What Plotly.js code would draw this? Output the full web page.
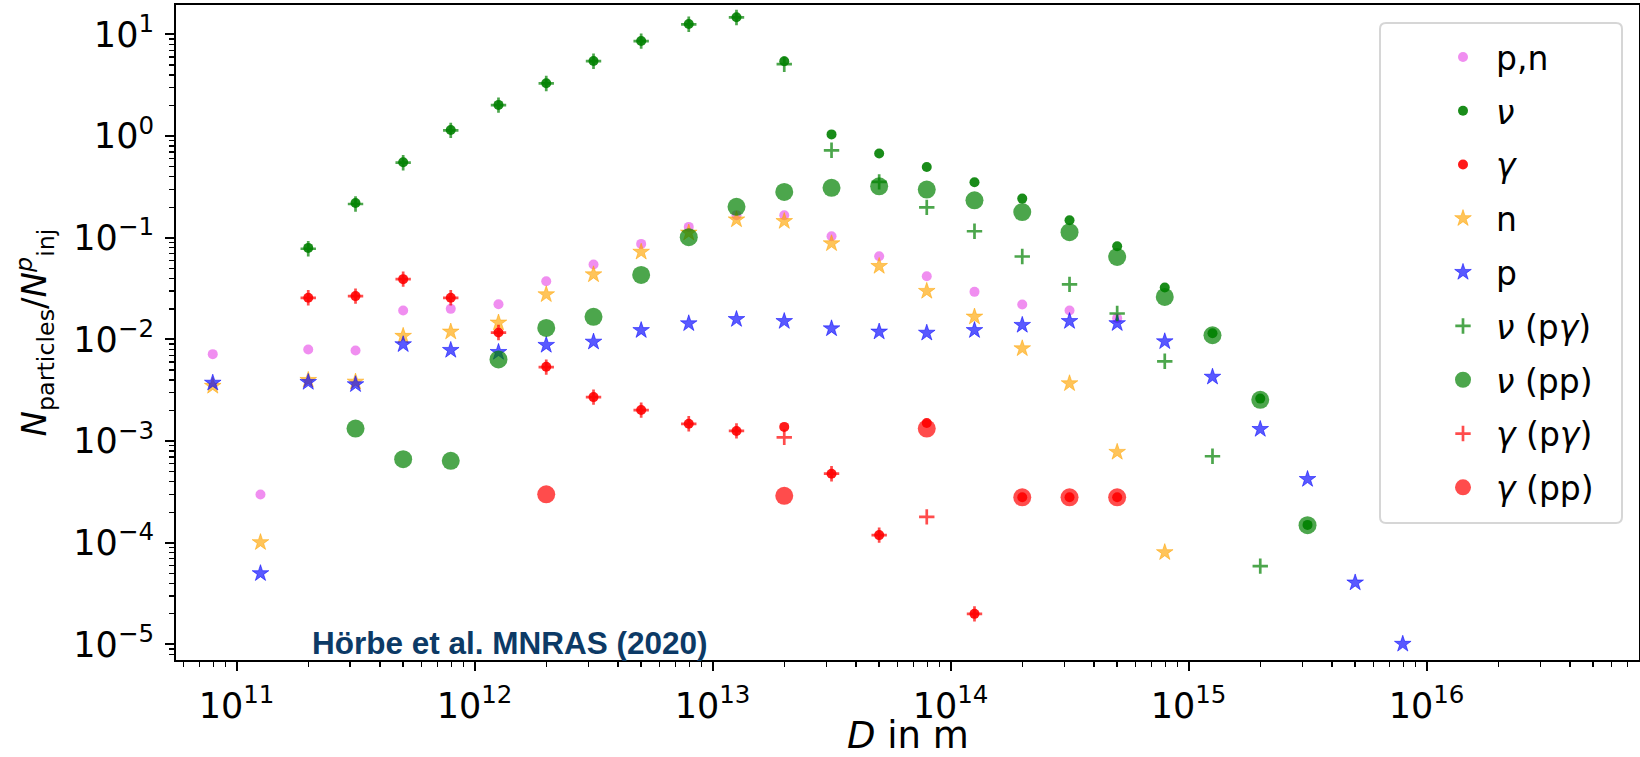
<!DOCTYPE html>
<html>
<head>
<meta charset="utf-8">
<script src="https://cdn.plot.ly/plotly-3.0.1.min.js"></script>
<style>
  html, body { margin: 0; padding: 0; background: #fff; }
  #chart { width: 1640px; height: 757px; }
</style>
</head>
<body>
<div id="chart"></div>
<script>
// Source distance D (m), five points per decade
const distance = [7.94e10, 1.26e11, 2.00e11, 3.16e11, 5.01e11, 7.94e11, 1.26e12, 2.00e12, 3.16e12, 5.01e12,
                  7.94e12, 1.26e13, 2.00e13, 3.16e13, 5.01e13, 7.94e13, 1.26e14, 2.00e14, 3.16e14, 5.01e14,
                  7.94e14, 1.26e15, 2.00e15, 3.16e15, 5.01e15, 7.94e15];

// Escaping particles per injected proton
const nucleons = [7.17e-3, 2.99e-4, 7.97e-3, 7.80e-3, 0.0193, 0.0200, 0.0222, 0.0374, 0.0546, 0.0871,
                  0.128, 0.167, 0.1667, 0.1037, 0.0659, 0.0418, 0.0294, 0.0221, 0.0193, 0.0162,
                  null, null, null, null, null, null];
const neutrinos = [null, null, 0.0796, 0.220, 0.553, 1.15, 2.03, 3.31, 5.48, 8.63,
                   12.7, 14.8, 5.45, 1.04, 0.675, 0.498, 0.352, 0.243, 0.149, 0.0826,
                   0.0324, 0.0115, 2.62e-3, 1.50e-4, null, null];
const gammas = [null, null, 0.0257, 0.0267, 0.0392, 0.0257, 0.0117, 5.38e-3, 2.71e-3, 2.02e-3,
                1.48e-3, 1.26e-3, 1.38e-3, 4.78e-4, 1.19e-4, 1.51e-3, 2.0e-5, 2.8e-4, 2.8e-4, 2.8e-4,
                null, null, null, null, null, null];
const neutrons = [3.48e-3, 1.01e-4, 3.98e-3, 3.83e-3, 0.0108, 0.0119, 0.0146, 0.0277, 0.0435, 0.0726,
                  0.112, 0.151, 0.1455, 0.0879, 0.0526, 0.0299, 0.0167, 8.15e-3, 3.69e-3, 7.8e-4,
                  8.05e-5, null, null, null, null, null];
const protons = [3.74e-3, 5.0e-5, 3.80e-3, 3.61e-3, 8.93e-3, 7.85e-3, 7.50e-3, 8.80e-3, 9.47e-3, 0.0123,
                 0.01436, 0.0158, 0.0151, 0.0128, 0.0119, 0.0116, 0.0123, 0.01384, 0.0151, 0.0144,
                 9.55e-3, 4.28e-3, 1.31e-3, 4.22e-4, 4.05e-5, 1.01e-5];
const neutrinosPG = [null, null, 0.078, 0.215, 0.548, 1.14, 2.02, 3.30, 5.46, 8.60,
                     12.6, 14.7, 5.10, 0.726, 0.355, 0.199, 0.116, 0.0655, 0.0348, 0.0180,
                     6.1e-3, 7.1e-4, 5.9e-5, null, null, null];
const neutrinosPP = [null, null, null, 1.33e-3, 6.65e-4, 6.40e-4, 6.36e-3, 0.0130, 0.0167, 0.0431,
                     0.1014, 0.2015, 0.2825, 0.310, 0.321, 0.298, 0.234, 0.179, 0.1135, 0.0649,
                     0.0262, 0.0110, 2.55e-3, 1.49e-4, null, null];
const gammasPG = [null, null, 0.0257, 0.0267, 0.0392, 0.0257, 0.0117, 5.35e-3, 2.71e-3, 2.02e-3,
                  1.48e-3, 1.26e-3, 1.09e-3, 4.78e-4, 1.19e-4, 1.80e-4, 2.0e-5, null, null, null,
                  null, null, null, null, null, null];
const gammasPP = [null, null, null, null, null, null, null, 3.0e-4, null, null,
                  null, null, 2.9e-4, null, null, 1.33e-3, null, 2.8e-4, 2.8e-4, 2.8e-4,
                  null, null, null, null, null, null];

// Axis ticks
const xTickVals = [1e11, 1e12, 1e13, 1e14, 1e15, 1e16];
const xTickText = ['10<sup>11</sup>', '10<sup>12</sup>', '10<sup>13</sup>', '10<sup>14</sup>', '10<sup>15</sup>', '10<sup>16</sup>'];
const yTickVals = [1e1, 1e0, 1e-1, 1e-2, 1e-3, 1e-4, 1e-5];
const yTickText = ['10<sup>1</sup>', '10<sup>0</sup>', '10<sup>\u22121</sup>', '10<sup>\u22122</sup>',
                   '10<sup>\u22123</sup>', '10<sup>\u22124</sup>', '10<sup>\u22125</sup>'];

// Minor ticks at 2..9 of every decade
function minorTicks(e0, e1) {
  const v = [];
  for (let e = e0; e <= e1; e++) for (let m = 2; m <= 9; m++) v.push(m * Math.pow(10, e));
  return v;
}

const W = 1640, H = 757;
const M = { l: 176, r: 1, t: 5, b: 97 };
const PW = W - M.l - M.r, PH = H - M.t - M.b;
const px = x => (x - M.l) / PW;
const py = y => 1 - (y - M.t) / PH;

// Rounded frame behind the legend, given in pixels
function roundedBox(x0, y0, x1, y1, r) {
  const rx = r / PW, ry = r / PH;
  const a = px(x0), b = px(x1), c = py(y0), d = py(y1);
  return `M${a + rx},${c} L${b - rx},${c} Q${b},${c} ${b},${c - ry} L${b},${d + ry} Q${b},${d} ${b - rx},${d} ` +
         `L${a + rx},${d} Q${a},${d} ${a},${d + ry} L${a},${c - ry} Q${a},${c} ${a + rx},${c} Z`;
}

const FONT = 'DejaVu Sans, Verdana, sans-serif';

function series(name, y, marker, group) {
  return { type: 'scatter', mode: 'markers', x: distance, y: y, name: name,
           legendgroup: group, marker: marker, hoverinfo: 'x+y+name' };
}

const traces = [
  series('p,n', nucleons, { symbol: 'circle', size: 10, color: 'rgba(238,130,238,0.9)', line: { width: 0 } }, 'g1'),
  series('<i>\u03bd</i>', neutrinos, { symbol: 'circle', size: 10, color: 'rgba(0,128,0,0.9)', line: { width: 0 } }, 'g2'),
  series('<i>\u03b3</i>', gammas, { symbol: 'circle', size: 10, color: 'rgba(255,0,0,0.9)', line: { width: 0 } }, 'g3'),
  series('n', neutrons, { symbol: 'star', size: 12.5, color: 'rgba(255,165,0,0.65)',
         line: { width: 0.8, color: 'rgba(255,165,0,0.65)' } }, 'g4'),
  series('p', protons, { symbol: 'star', size: 12.5, color: 'rgba(0,0,255,0.65)',
         line: { width: 0.8, color: 'rgba(0,0,255,0.65)' } }, 'g5'),
  series('<i>\u03bd</i> (p<i>\u03b3</i>)', neutrinosPG, { symbol: 'cross-thin', size: 11, color: 'rgba(0,128,0,0.7)',
         line: { width: 2.7, color: 'rgba(0,128,0,0.7)' } }, 'g6'),
  series('<i>\u03bd</i> (pp)', neutrinosPP, { symbol: 'circle', size: 18, color: 'rgba(0,128,0,0.7)', line: { width: 0 } }, 'g7'),
  series('<i>\u03b3</i> (p<i>\u03b3</i>)', gammasPG, { symbol: 'cross-thin', size: 11, color: 'rgba(255,0,0,0.7)',
         line: { width: 2.7, color: 'rgba(255,0,0,0.7)' } }, 'g8'),
  series('<i>\u03b3</i> (pp)', gammasPP, { symbol: 'circle', size: 18, color: 'rgba(255,0,0,0.7)', line: { width: 0 } }, 'g9')
];

const axisCommon = {
  type: 'log', showgrid: false, zeroline: false,
  showline: true, linecolor: '#000', linewidth: 2, mirror: true,
  ticks: 'outside', ticklen: 9, tickwidth: 2, tickcolor: '#000',
  tickmode: 'array',
  tickfont: { family: FONT, size: 35, color: '#000' },
  automargin: false
};

const layout = {
  width: W, height: H,
  margin: M,
  paper_bgcolor: '#fff', plot_bgcolor: '#fff',
  font: { family: FONT, color: '#000' },
  showlegend: true,
  xaxis: Object.assign({}, axisCommon, {
    range: [10.7454, 16.8924],
    tickvals: xTickVals, ticktext: xTickText,
    ticklabelstandoff: 5,
    minor: { tickmode: 'array', tickvals: minorTicks(10, 16), ticks: 'outside', ticklen: 5, tickwidth: 1.3, tickcolor: '#000', showgrid: false }
  }),
  yaxis: Object.assign({}, axisCommon, {
    range: [-5.153, 1.290],
    tickvals: yTickVals, ticktext: yTickText,
    ticklabelstandoff: 4,
    minor: { tickmode: 'array', tickvals: minorTicks(-6, 1), ticks: 'outside', ticklen: 5, tickwidth: 1.3, tickcolor: '#000', showgrid: false },
    title: { text: '<i>N</i><sub>particles</sub>/<i>N</i><sup><i>p</i></sup><sub>inj</sub>', font: { family: FONT, size: 34, color: '#000' }, standoff: 16 }
  }),
  legend: {
    x: px(1430), y: py(29), xanchor: 'left', yanchor: 'top',
    bgcolor: 'rgba(0,0,0,0)', borderwidth: 0,
    font: { family: FONT, size: 33, color: '#000' },
    traceorder: 'grouped', tracegroupgap: 7.9, itemwidth: 56
  },
  shapes: [{
    type: 'path', xref: 'paper', yref: 'paper', layer: 'below',
    path: roundedBox(1380, 23, 1622, 523, 6),
    line: { color: '#d6d6d6', width: 2 }, fillcolor: 'rgba(255,255,255,0.8)'
  }],
  annotations: [
    {
      // x-axis title, placed low in the bottom margin
      text: '<i>D</i> in m',
      xref: 'paper', yref: 'paper', x: 0.5, y: py(735), xanchor: 'center', yanchor: 'middle',
      showarrow: false, font: { family: FONT, size: 37, color: '#000' }
    },
    {
      text: '<b>H\u00f6rbe et al. MNRAS (2020)</b>',
      xref: 'paper', yref: 'paper', x: px(310), y: py(643), xanchor: 'left', yanchor: 'middle',
      showarrow: false, font: { family: 'Liberation Sans, Arial, sans-serif', size: 31.5, color: '#0c3a66' }
    }
  ]
};

Plotly.newPlot('chart', traces, layout, { staticPlot: true, displayModeBar: false });
</script>
</body>
</html>
